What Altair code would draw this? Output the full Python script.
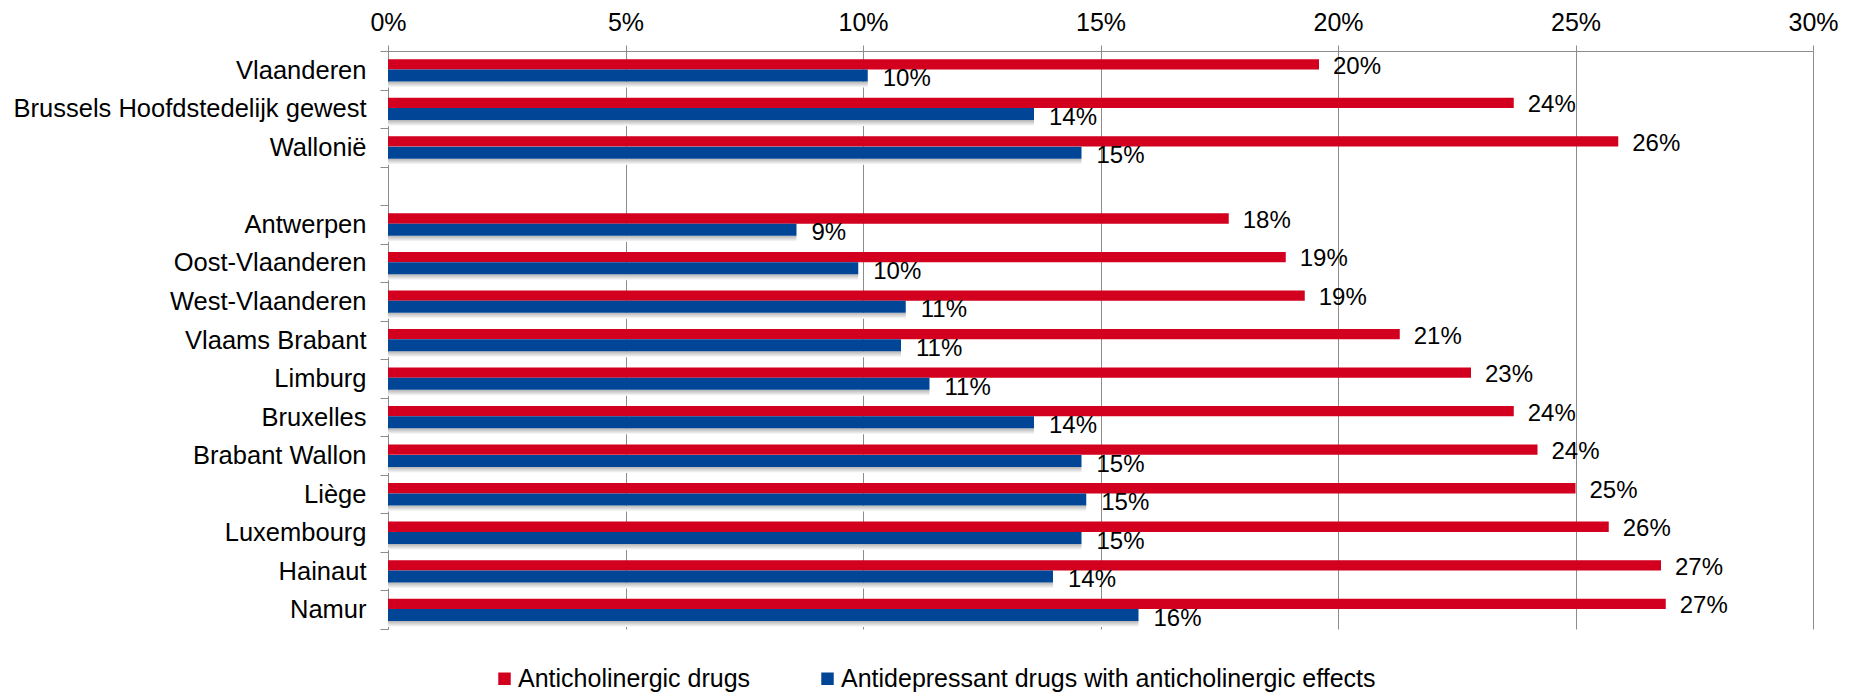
import altair as alt
import pandas as pd

# Regions (first three) and provinces, top to bottom
regions = ["Vlaanderen", "Brussels Hoofdstedelijk gewest", "Wallonië",
           "Antwerpen", "Oost-Vlaanderen", "West-Vlaanderen", "Vlaams Brabant",
           "Limburg", "Bruxelles", "Brabant Wallon", "Liège", "Luxembourg",
           "Hainaut", "Namur"]

# Share of users (fraction)
anticholinergic = [0.196, 0.237, 0.259, 0.177, 0.189, 0.193, 0.213, 0.228,
                   0.237, 0.242, 0.250, 0.257, 0.268, 0.269]
antidepressant = [0.101, 0.136, 0.146, 0.086, 0.099, 0.109, 0.108, 0.114,
                  0.136, 0.146, 0.147, 0.146, 0.140, 0.158]

series = ["Anticholinergic drugs", "Antidepressant drugs with anticholinergic effects"]
colors = ["#D2001E", "#004596"]

# empty slot separating the regions from the provinces
gap = " "
y_domain = regions[:3] + [gap] + regions[3:]

rows = []
for r, a, d in zip(regions, anticholinergic, antidepressant):
    rows.append({"region": r, "series": series[0], "value": a})
    rows.append({"region": r, "series": series[1], "value": d})
df = pd.DataFrame(rows)

FONT = "Liberation Sans"
GRAY = "#8C8C8C"

y_enc = alt.Y("region:N", scale=alt.Scale(domain=y_domain, paddingInner=0, paddingOuter=0),
              sort=y_domain,
              axis=alt.Axis(title=None, orient="left", tickBand="extent", tickSize=8,
                            tickColor=GRAY, domainColor=GRAY, labelPadding=14,
                            labelFontSize=25.5, labelFont=FONT, labelColor="#000000",
                            labelLimit=0))
x_enc = alt.X("value:Q", scale=alt.Scale(domain=[0, 0.30], nice=False),
              axis=alt.Axis(title=None, orient="top", format=".0%",
                            values=[0, .05, .10, .15, .20, .25, .30],
                            grid=True, gridColor=GRAY, gridWidth=1, tickSize=6, tickColor=GRAY,
                            domainColor=GRAY, labelPadding=10, labelFontSize=25,
                            labelFlush=False, labelFont=FONT, labelColor="#000000"))
color_enc = alt.Color("series:N", scale=alt.Scale(domain=series, range=colors),
                      legend=alt.Legend(title=None, orient="none", direction="horizontal",
                                        legendX=104, legendY=615, symbolType="square",
                                        symbolSize=156, symbolStrokeWidth=0, labelFontSize=25,
                                        labelFont=FONT, labelColor="#000000", labelOffset=1,
                                        labelLimit=0, columnPadding=64, padding=0))

base = alt.Chart(df)

shadow = base.transform_filter(alt.datum.series == series[1]).mark_bar(
    height=6, yOffset=14.3,
    color=alt.Gradient(gradient="linear", x1=0, x2=0, y1=0, y2=1,
                       stops=[alt.GradientStop(color="#B4B4B4", offset=0),
                              alt.GradientStop(color="#FFFFFF", offset=1)]),
).encode(y=y_enc, x=x_enc)

red = base.transform_filter(alt.datum.series == series[0]).mark_bar(
    height=10.3, yOffset=-5.9
).encode(y=y_enc, x=x_enc, color=color_enc)

blue = base.transform_filter(alt.datum.series == series[1]).mark_bar(
    height=12, yOffset=5.3
).encode(y=y_enc, x=x_enc, color=color_enc)

red_lbl = base.transform_filter(alt.datum.series == series[0]).mark_text(
    align="left", baseline="middle", dx=14, dy=-3.5, fontSize=24, font=FONT, color="#000000"
).encode(y=y_enc, x=x_enc, text=alt.Text("value:Q", format=".0%"))

blue_lbl = base.transform_filter(alt.datum.series == series[1]).mark_text(
    align="left", baseline="middle", dx=15, dy=9, fontSize=24, font=FONT, color="#000000"
).encode(y=y_enc, x=x_enc, text=alt.Text("value:Q", format=".0%"))

chart = alt.layer(shadow, red, blue, red_lbl, blue_lbl).properties(
    width=1425, height=578,
    padding={"left": 388, "top": 51, "right": 48, "bottom": 64},
    autosize=alt.AutoSizeParams(type="none"),
    background="#FFFFFF",
).configure_view(stroke=None)

chart.save("out.html", embed_options={"renderer": "svg", "actions": False})
